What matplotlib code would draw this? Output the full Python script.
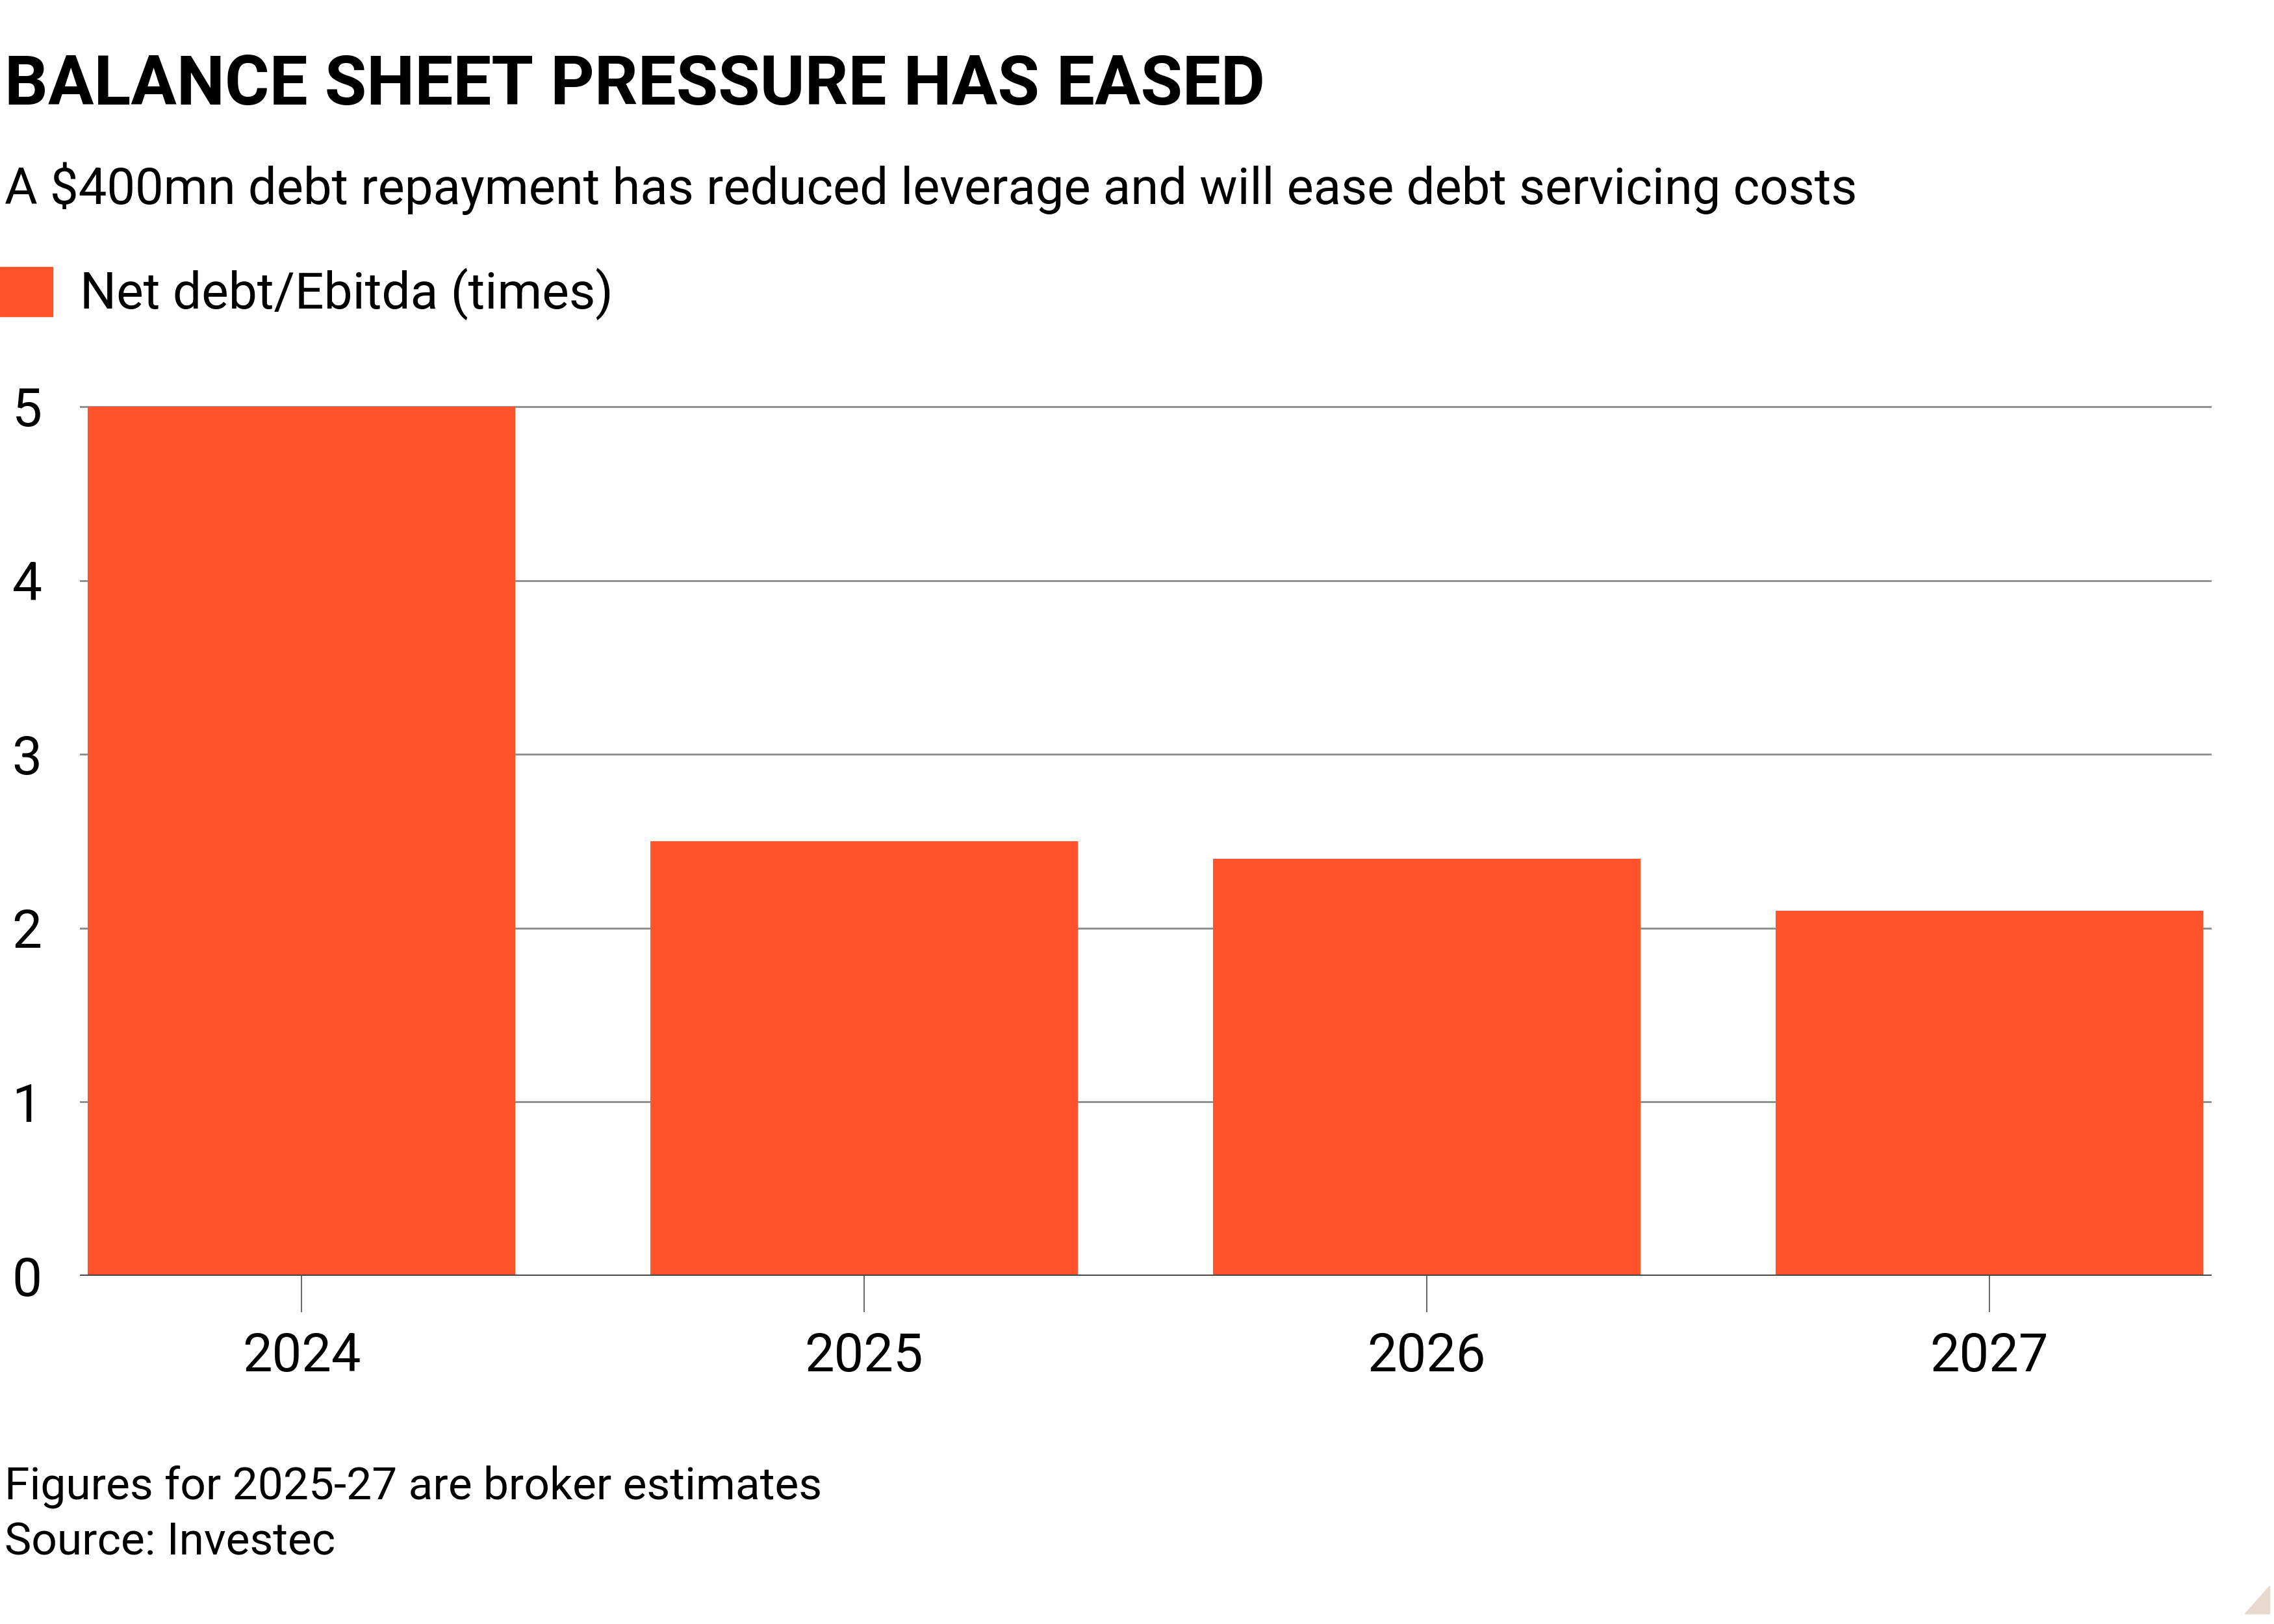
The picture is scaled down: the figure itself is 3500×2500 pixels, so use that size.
import matplotlib
matplotlib.use("Agg")
from matplotlib import pyplot as plt
from matplotlib.patches import Rectangle, Polygon

years = ["2024", "2025", "2026", "2027"]
net_debt_ebitda = [5.0, 2.5, 2.4, 2.1]
y_ticks = [0, 1, 2, 3, 4, 5]

title = "BALANCE SHEET PRESSURE HAS EASED"
subtitle = "A $400mn debt repayment has reduced leverage and will ease debt servicing costs"
series_name = "Net debt/Ebitda (times)"
note = "Figures for 2025-27 are broker estimates"
source = "Source: Investec"

plt.rcParams["font.family"] = ["Roboto", "DejaVu Sans"]

bar_color = "#ff532c"
ink = "#000000"

fig = plt.figure(figsize=(35, 25), dpi=100)
ax = fig.add_axes([0.0351, 0.2144, 0.9374, 0.5406])

x = list(range(len(years)))
ax.bar(x, net_debt_ebitda, width=0.76, color=bar_color, zorder=2)

ax.set_xlim(-0.394, len(years) - 1 + 0.395)
ax.set_ylim(0, 5.05)
ax.set_yticks(y_ticks)
ax.set_yticklabels([str(t) for t in y_ticks])
ax.set_xticks(x)
ax.set_xticklabels(years)

for s in ax.spines.values():
    s.set_visible(False)
ax.yaxis.grid(True, color="#8c8c8c", linewidth=2.0, zorder=1)
ax.set_axisbelow(True)
ax.axhline(0, color="#444444", linewidth=2.8, zorder=3)

ax.tick_params(axis="y", length=0, pad=42, labelsize=59, labelcolor=ink)
ax.tick_params(axis="x", length=40, width=1.4, color="#666666", pad=22,
               labelsize=58.5, labelcolor=ink)

fig.text(0.002, 0.9354, title, fontsize=75.5, fontweight="bold", color=ink)
fig.text(0.002, 0.8745, subtitle, fontsize=56, color=ink)

fig.patches.append(Rectangle((0.0, 0.8052), 0.0231, 0.0304,
                             transform=fig.transFigure, color=bar_color))
fig.text(0.0352, 0.8098, series_name, fontsize=56.5, color=ink)

fig.text(0.002, 0.0768, note, fontsize=50, color=ink)
fig.text(0.002, 0.0425, source, fontsize=50, color=ink)

fig.patches.append(Polygon([(0.9871, 0.0064), (0.998, 0.0064), (0.998, 0.0236)],
                           closed=True, transform=fig.transFigure, color="#e6d9ce"))

fig.savefig("out.png", dpi=100, facecolor="white")
